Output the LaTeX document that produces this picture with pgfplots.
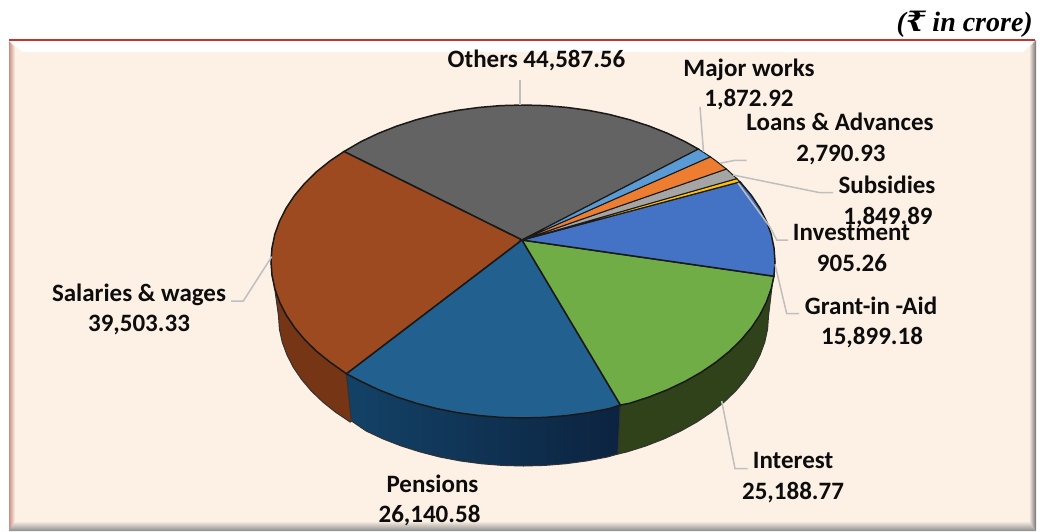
\documentclass[border=0pt]{standalone}
\usepackage{fontspec}
\usepackage{pgfplots}
\pgfplotsset{compat=1.18}
\setmainfont{Carlito}
\newfontfamily\rsfont{Liberation Serif}
\newfontfamily\rupee{DejaVu Serif}
\definecolor{bgc}{HTML}{FDF1E6}
\definecolor{othc}{HTML}{636363}
\definecolor{salc}{HTML}{9E4A20}
\definecolor{salw}{HTML}{763514}
\definecolor{penc}{HTML}{22608F}
\definecolor{penwa}{HTML}{134267}
\definecolor{penwb}{HTML}{0C2340}
\definecolor{intc}{HTML}{70AD47}
\definecolor{intw}{HTML}{2F4219}
\definecolor{invc}{HTML}{4472C4}
\definecolor{mwc}{HTML}{5B9BD5}
\definecolor{lac}{HTML}{ED7D31}
\definecolor{subc}{HTML}{A5A5A5}
\definecolor{yelc}{HTML}{FFC000}
\definecolor{leadc}{HTML}{BFBFBF}
\definecolor{leftb}{HTML}{C89088}
\newcommand{\lab}[3]{\node[anchor=base,inner sep=0pt,font=\bfseries\fontsize{25}{28}\selectfont,text=black!95] at (axis cs:#1,#2) {#3};}
\begin{document}
\begin{tikzpicture}
\begin{axis}[at={(0,0)},anchor=south west,width=1043pt,height=531pt,scale only axis,hide axis,clip=false,
 xmin=0,xmax=1043,ymin=0,ymax=531,y dir=reverse,enlargelimits=false]
\addplot[draw=none,fill=white] coordinates {(0,0)(1043,0)(1043,531)(0,531)} --cycle;
% panel
\addplot[draw=none,fill=bgc] coordinates {(9,40)(1036,40)(1036,531)(9,531)} --cycle;
\addplot[draw=none,fill=white] coordinates {(10,41)(1035,41)(1023,52)(22,52)} --cycle;
\addplot[draw=none,left color=leftb,right color=bgc] coordinates {(9,41)(15,47)(15,526)(9,531)} --cycle;
\addplot[draw=none,left color=bgc,right color=black!55] coordinates {(1029,47)(1036,40)(1036,531)(1029,522)} --cycle;
\addplot[draw=none,top color=bgc,bottom color=black!45] coordinates {(15,521)(1029,521)(1036,531)(9,531)} --cycle;
\addplot[draw={rgb,255:red,200;green,50;blue,47},line width=2pt] coordinates {(9,39.5)(1035,39.5)};
% side walls
\addplot[draw=black!80,line width=1pt,fill=salw] coordinates {(271,261.5)(272,275.1)(274.8,288.7)(279.6,302)(286.2,315)(294.6,327.6)(304.8,339.75)(316.6,351.3)(330,362.1)(344.8,372.2)(346.5,373.8)(351.5,421)(350.3,422.1)(335.8,412.4)(322.8,402)(311.3,391)(301.5,379.4)(293.3,367.3)(286.9,354.8)(282.2,342)(279.4,329.1)(278.5,316)} --cycle;
\addplot[draw=black!80,line width=1pt,left color=penwa,right color=penwb] coordinates {(346.5,373.8)(361,381.4)(378.5,389.7)(397,397)(416.5,403.3)(436.8,408.6)(457.8,412.7)(479.3,415.6)(501,417.4)(523,418)(545,417.4)(566.7,415.6)(588.2,412.7)(609.2,408.6)(620.4,405)(618,454)(607.3,457)(586.9,460.9)(566,463.7)(544.9,465.4)(523.5,466)(502.1,465.4)(481,463.7)(460.1,460.9)(439.7,457)(420,451.9)(401,445.9)(383,438.9)(366,430.9)(351.5,421)} --cycle;
\addplot[draw=black!80,line width=1pt,fill=intw] coordinates {(620.4,405)(629.5,403.3)(649,397)(667.5,389.7)(685,381.4)(701.2,372.2)(716,362.1)(729.4,351.3)(741.2,339.75)(751.4,327.6)(759.8,315)(766.4,302)(771.2,288.7)(773.9,276.2)(775,261.5)(768.5,316)(767.6,329.1)(764.8,342)(760.1,354.8)(753.7,367.3)(745.5,379.4)(735.7,391)(724.2,402)(711.2,412.4)(696.7,422.1)(681,430.9)(664,438.9)(646,445.9)(627,451.9)(618,454)} --cycle;
% top face
\addplot[draw=black!90,line width=1.5pt,fill=othc] coordinates {(522,240)(344,151.5)(361,141.6)(378.5,133.3)(397,126)(416.5,119.7)(436.8,114.4)(457.8,110.3)(479.3,107.4)(501,105.6)(523,105)(545,105.6)(566.7,107.4)(588.2,110.3)(609.2,114.4)(629.5,119.7)(649,126)(667.5,133.3)(685,141.6)(698.4,149.1)} --cycle;
\addplot[draw=black!90,line width=1.5pt,fill=salc] coordinates {(522,240)(346.5,373.8)(330,362.1)(316.6,351.3)(304.8,339.75)(294.6,327.6)(286.2,315)(279.6,302)(274.8,288.7)(272,275.1)(271,261.5)(272,247.9)(274.8,234.3)(279.6,221)(286.2,208)(294.6,195.4)(304.8,183.25)(316.6,171.7)(330,160.9)(344,151.5)} --cycle;
\addplot[draw=black!90,line width=1.5pt,fill=penc] coordinates {(522,240)(620.4,405)(609.2,408.6)(588.2,412.7)(566.7,415.6)(545,417.4)(523,418)(501,417.4)(479.3,415.6)(457.8,412.7)(436.8,408.6)(416.5,403.3)(397,397)(378.5,389.7)(361,381.4)(346.5,373.8)} --cycle;
\addplot[draw=black!90,line width=1.5pt,fill=intc] coordinates {(522,240)(773.9,276.2)(771.2,288.7)(766.4,302)(759.8,315)(751.4,327.6)(741.2,339.75)(729.4,351.3)(716,362.1)(701.2,372.2)(685,381.4)(667.5,389.7)(649,397)(629.5,403.3)(620.4,405)} --cycle;
\addplot[draw=black!90,line width=1.5pt,fill=invc] coordinates {(522,240)(739.9,181.8)(741.2,183.25)(751.4,195.4)(759.8,208)(766.4,221)(771.2,234.3)(774,247.9)(775,261.5)(774,275.1)(773.9,276.2)} --cycle;
\addplot[draw=black!90,line width=1pt,fill=yelc] coordinates {(522,240)(736.7,178.6)(739.9,181.8)} --cycle;
\addplot[draw=black!90,line width=1pt,fill=subc] coordinates {(522,240)(726.4,169)(729.4,171.7)(736.7,178.6)} --cycle;
\addplot[draw=black!90,line width=1pt,fill=lac] coordinates {(522,240)(710.3,156.8)(716,160.9)(726.4,169)} --cycle;
\addplot[draw=black!90,line width=1pt,fill=mwc] coordinates {(522,240)(698.4,149.1)(701.2,150.8)(710.3,156.8)} --cycle;
% leader lines
\addplot[leadc,line width=1.5pt] coordinates {(520,80)(520,105)};
\addplot[leadc,line width=1.5pt] coordinates {(700,107)(703.5,152)};
\addplot[leadc,line width=1.5pt] coordinates {(746.7,160.3)(735,160.3)(720,163.3)};
\addplot[leadc,line width=1.5pt] coordinates {(833,192.7)(820,192.7)(733,175)};
\addplot[leadc,line width=1.5pt] coordinates {(788,240)(776.7,240)(770,227)(738,183)};
\addplot[leadc,line width=1.5pt] coordinates {(799,313.7)(786.7,313.7)(775,264.3)};
\addplot[leadc,line width=1.5pt] coordinates {(747.7,468.7)(735,468.7)(721.7,401)};
\addplot[leadc,line width=1.5pt] coordinates {(231,301)(243.3,301)(271.7,256.7)};
% labels
\lab{536.5}{67.7}{Others 44,587.56}
\lab{749}{76}{Major works}
\lab{749}{106}{1,872.92}
\lab{840}{130.7}{Loans \& Advances}
\lab{841}{161}{2,790.93}
\lab{887}{193.3}{Subsidies}
\lab{888}{224}{1,849.89}
\lab{851.5}{240.7}{Investment}
\lab{852}{271}{905.26}
\lab{871}{314}{Grant-in -Aid}
\lab{872}{344.3}{15,899.18}
\lab{793}{468.3}{Interest}
\lab{793}{499}{25,188.77}
\lab{432.5}{492.7}{Pensions}
\lab{429.5}{522.7}{26,140.58}
\lab{139}{301}{Salaries \& wages}
\lab{139}{331}{39,503.33}
\node[anchor=base east,inner sep=0pt,font=\rsfont\bfseries\itshape\fontsize{28}{30}\selectfont] at (axis cs:1033,31) {({\rupee ₹} in crore)};
\end{axis}
\end{tikzpicture}
\end{document}
